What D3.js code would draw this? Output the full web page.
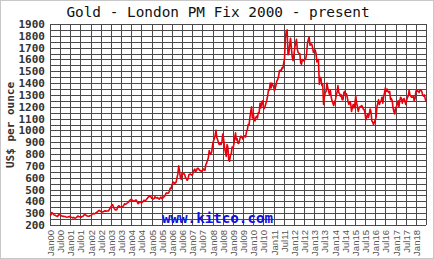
<!DOCTYPE html>
<html>
<head>
<meta charset="utf-8">
<script src="https://cdn.jsdelivr.net/npm/d3@7.9.0/dist/d3.min.js"></script>
<style>
  html, body { margin: 0; padding: 0; background: #fff; }
  svg { display: block; }
</style>
</head>
<body>
<div id="chart"></div>
<script>
// half-month gold fix estimates (1st and 16th of each month), US$ per ounce
const p2000 = [290,285, 305,300, 290,285, 282,278, 275,272, 285,290, 284,280, 277,274, 273,272, 271,268, 266,267, 270,273];
const p2001 = [266,265, 263,260, 265,260, 258,262, 268,277, 271,270, 268,266, 272,274, 283,290, 285,280, 276,274, 274,278];
const p2002 = [280,283, 296,298, 293,295, 302,305, 310,318, 324,320, 314,312, 310,312, 318,320, 316,318, 319,318, 330,342];
const p2003 = [356,366, 372,350, 340,330, 328,330, 352,362, 360,350, 350,352, 358,364, 380,376, 378,384, 390,396, 408,412];
const p2004 = [420,410, 406,400, 404,410, 410,395, 380,388, 390,394, 400,392, 400,410, 404,408, 418,426, 436,442, 444,440];
const p2005 = [424,424, 420,426, 440,430, 428,432, 424,418, 428,436, 424,426, 436,440, 452,468, 472,468, 470,488, 512,508];
const p2006 = [540,558, 562,550, 556,562, 600,630, 700,660, 600,585, 640,630, 634,628, 600,592, 578,590, 625,630, 630,625];
const p2007 = [620,645, 665,672, 650,660, 680,680, 670,660, 660,650, 662,675, 665,662, 710,725, 745,770, 830,800, 800,820];
const p2008 = [880,910, 930,960, 1000,940, 920,895, 880,895, 880,900, 970,930, 860,820, 780,880, 860,750, 740,790, 800,860];
const p2009 = [850,880, 940,980, 920,930, 890,890, 920,950, 950,935, 925,950, 955,945, 990,1005, 1050,1045, 1110,1160, 1200,1105];
const p2010 = [1140,1090, 1080,1110, 1120,1105, 1150,1150, 1230,1190, 1240,1250, 1200,1185, 1205,1230, 1255,1295, 1340,1340, 1400,1360, 1400,1385];
const p2011 = [1370,1335, 1360,1390, 1420,1430, 1460,1505, 1510,1500, 1530,1525, 1570,1610, 1780,1840, 1850,1640, 1650,1720, 1780,1700, 1620,1590];
const p2012 = [1640,1700, 1740,1770, 1690,1660, 1650,1650, 1570,1560, 1600,1590, 1590,1600, 1610,1650, 1740,1770, 1790,1720, 1730,1730, 1700,1660];
const p2013 = [1670,1680, 1650,1580, 1590,1600, 1390,1450, 1440,1380, 1390,1220, 1280,1320, 1330,1400, 1360,1330, 1300,1340, 1280,1250, 1230,1210];
const p2014 = [1240,1260, 1300,1330, 1380,1320, 1310,1290, 1300,1260, 1260,1320, 1330,1300, 1310,1280, 1240,1220, 1240,1230, 1160,1195, 1220,1190];
const p2015 = [1230,1290, 1230,1200, 1160,1190, 1200,1200, 1210,1200, 1180,1175, 1150,1090, 1110,1140, 1110,1140, 1180,1160, 1080,1070, 1050,1070];
const p2016 = [1090,1110, 1200,1230, 1260,1220, 1240,1250, 1280,1230, 1290,1320, 1360,1330, 1350,1330, 1320,1330, 1260,1270, 1250,1190, 1160,1140];
const p2017 = [1190,1200, 1230,1250, 1200,1250, 1280,1270, 1230,1260, 1270,1250, 1220,1250, 1280,1290, 1340,1300, 1290,1280, 1280,1290, 1250,1270];
const p2018 = [1330,1345, 1330,1330, 1320,1345, 1340,1330, 1300,1290, 1300,1270, 1245];

const priceYears = [2000, 2001, 2002, 2003, 2004, 2005, 2006, 2007, 2008, 2009,
                    2010, 2011, 2012, 2013, 2014, 2015, 2016, 2017, 2018];
const priceSeries = [p2000, p2001, p2002, p2003, p2004, p2005, p2006, p2007, p2008, p2009,
                     p2010, p2011, p2012, p2013, p2014, p2015, p2016, p2017, p2018];

const yTicks = [200, 300, 400, 500, 600, 700, 800, 900, 1000, 1100, 1200,
                1300, 1400, 1500, 1600, 1700, 1800, 1900];
const yGrid = d3.range(200, 1901, 50);

const titleText = 'Gold - London PM Fix 2000 - present';
const yTitle = 'US$ per ounce';
const watermark = 'www.kitco.com';

const width = 434;
const height = 259;

const data = priceSeries.flatMap((vals, i) =>
  vals.map((v, j) => ({
    date: new Date(priceYears[i], Math.floor(j / 2), j % 2 === 0 ? 1 : 16),
    price: v,
  }))
);

const svg = d3.select('#chart')
  .append('svg')
  .attr('width', width)
  .attr('height', height);

svg.append('rect')
  .attr('x', 0.5).attr('y', 0.5)
  .attr('width', width - 1).attr('height', height - 1)
  .attr('fill', '#fff')
  .attr('stroke', '#c8c8c8');

const plot = { left: 50, right: 426, top: 24, bottom: 225 };

const xScale = d3.scaleTime()
  .domain([new Date(2000, 0, 1), new Date(2018, 6, 1)])
  .range([plot.left, plot.right]);

const yScale = d3.scaleLinear()
  .domain([200, 1900])
  .range([plot.bottom, plot.top]);

const xTicks = d3.timeMonth.every(6).range(new Date(2000, 0, 1), new Date(2018, 6, 2));
const fmt = d3.timeFormat('%b%y');

// grid
const grid = svg.append('g').attr('stroke', '#4a4a4a').attr('stroke-width', 1);

grid.selectAll('line.h')
  .data(yGrid)
  .join('line')
  .attr('class', 'h')
  .attr('x1', plot.left)
  .attr('x2', plot.right)
  .attr('y1', (d) => Math.round(yScale(d)) + 0.5)
  .attr('y2', (d) => Math.round(yScale(d)) + 0.5);

grid.selectAll('line.v')
  .data(xTicks)
  .join('line')
  .attr('class', 'v')
  .attr('x1', (d) => Math.round(xScale(d)) + 0.5)
  .attr('x2', (d) => Math.round(xScale(d)) + 0.5)
  .attr('y1', plot.top)
  .attr('y2', plot.bottom);

// y labels
svg.append('g')
  .selectAll('text')
  .data(yTicks)
  .join('text')
  .attr('x', 45)
  .attr('y', (d) => yScale(d) + 4)
  .attr('text-anchor', 'end')
  .attr('font-family', 'DejaVu Sans Mono')
  .attr('font-weight', 'bold')
  .attr('font-size', 11)
  .attr('fill', '#333')
  .text((d) => d);

// x labels
svg.append('g')
  .selectAll('text')
  .data(xTicks.slice(0, -1))
  .join('text')
  .attr('transform', (d) => `translate(${Math.round(xScale(d)) + 4},230) rotate(-90)`)
  .attr('text-anchor', 'end')
  .attr('font-family', 'Liberation Sans')
  .attr('font-size', 9.5)
  .attr('fill', '#555')
  .text((d) => fmt(d));

// title
svg.append('text')
  .attr('x', 218)
  .attr('y', 17)
  .attr('text-anchor', 'middle')
  .attr('font-family', 'DejaVu Sans Mono')
  .attr('font-size', 14.4)
  .attr('fill', '#111')
  .text(titleText);

svg.append('text')
  .attr('transform', 'translate(14,125) rotate(-90)')
  .attr('text-anchor', 'middle')
  .attr('font-family', 'DejaVu Sans Mono')
  .attr('font-weight', 'bold')
  .attr('font-size', 11)
  .attr('fill', '#333')
  .text(yTitle);

svg.append('text')
  .attr('x', 162)
  .attr('y', 223)
  .attr('font-family', 'DejaVu Sans Mono')
  .attr('font-weight', 'bold')
  .attr('font-size', 14.2)
  .attr('fill', '#1010e0')
  .text(watermark);

// price line
const line = d3.line()
  .x((d) => xScale(d.date))
  .y((d) => yScale(d.price));

svg.append('path')
  .datum(data)
  .attr('fill', 'none')
  .attr('stroke', '#e8000b')
  .attr('stroke-width', 1.6)
  .attr('stroke-linejoin', 'round')
  .attr('d', line);
</script>
</body>
</html>
